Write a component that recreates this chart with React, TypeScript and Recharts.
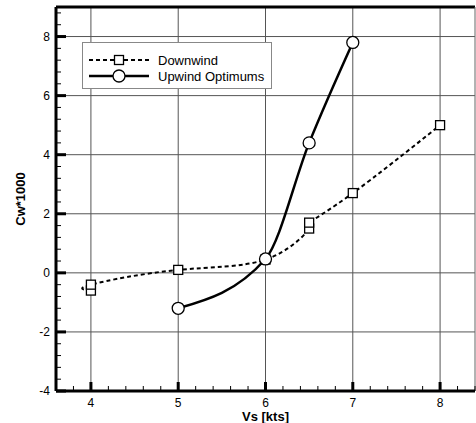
import { LineChart, Line, XAxis, YAxis, ReferenceLine } from "recharts";

const DOWN_X = [4, 4, 5, 6, 6.5, 6.5, 7, 8];
const DOWN_Y = [-0.6, -0.4, 0.1, 0.45, 1.5, 1.7, 2.7, 5.0];

const UP_X = [5, 6, 6.5, 7];
const UP_Y = [-1.2, 0.47, 4.4, 7.8];

const X_TICKS = [
  3.6, 3.8, 4, 4.2, 4.4, 4.6, 4.8, 5, 5.2, 5.4, 5.6, 5.8, 6, 6.2, 6.4, 6.6,
  6.8, 7, 7.2, 7.4, 7.6, 7.8, 8, 8.2, 8.4,
];
const Y_TICKS = [
  -4, -3.6, -3.2, -2.8, -2.4, -2, -1.6, -1.2, -0.8, -0.4, 0, 0.4, 0.8, 1.2,
  1.6, 2, 2.4, 2.8, 3.2, 3.6, 4, 4.4, 4.8, 5.2, 5.6, 6, 6.4, 6.8, 7.2, 7.6, 8,
  8.4, 8.8,
];
const X_GRID = [4, 5, 6, 7, 8];
const Y_GRID = [-2, 0, 2, 4, 6, 8];

const downData = DOWN_X.map((x, i) => ({ x, y: DOWN_Y[i] }));
const upData = UP_X.map((x, i) => ({ x, y: UP_Y[i] }));

const FONT = "'Liberation Sans', Arial, sans-serif";

const isInt = (v: number) => Math.abs(v - Math.round(v)) < 1e-6;

const XTick = (props: any) => {
  const { x, y, payload } = props;
  const v = payload.value as number;
  const major = isInt(v) && v > 3.7 && v < 8.3;
  return (
    <g>
      <line
        x1={x}
        x2={x}
        y1={y}
        y2={y - (major ? 9 : 5)}
        stroke="#000"
        strokeWidth={major ? 3 : 1}
      />
      {major && (
        <text x={x} y={y + 16} textAnchor="middle" fontSize={12} fill="#000" fontFamily={FONT}>
          {Math.round(v)}
        </text>
      )}
    </g>
  );
};

const YTick = (props: any) => {
  const { x, y, payload } = props;
  const v = payload.value as number;
  const major = isInt(v) && Math.round(v) % 2 === 0;
  return (
    <g>
      <line
        x1={x}
        x2={x + (major ? 10 : 5)}
        y1={y}
        y2={y}
        stroke="#000"
        strokeWidth={major ? 3 : 1}
      />
      {major && (
        <text x={x - 6} y={y + 4} textAnchor="end" fontSize={12} fill="#000" fontFamily={FONT}>
          {Math.round(v)}
        </text>
      )}
    </g>
  );
};

const SquareDot = (props: any) => {
  const { cx, cy } = props;
  if (cx == null || cy == null) return null;
  return (
    <rect x={cx - 4.5} y={cy - 4.5} width={9} height={9} fill="#fff" stroke="#000" strokeWidth={1.3} />
  );
};

const CircleDot = (props: any) => {
  const { cx, cy } = props;
  if (cx == null || cy == null) return null;
  return <circle cx={cx} cy={cy} r={6} fill="#fff" stroke="#000" strokeWidth={1.3} />;
};

const YLabel = (props: any) => {
  const vb = props.viewBox || { y: 7, height: 384 };
  const cx = 20;
  const cy = vb.y + vb.height / 2;
  return (
    <text
      x={cx}
      y={cy}
      transform={`rotate(-90 ${cx} ${cy})`}
      textAnchor="middle"
      dominantBaseline="central"
      fontSize={13}
      fontWeight="bold"
      fontFamily={FONT}
      fill="#000"
    >
      Cw*1000
    </text>
  );
};

function ChartLegend() {
  return (
    <div
      style={{
        position: "absolute",
        left: 82,
        top: 42,
        width: 188,
        height: 45,
        border: "1px solid #888",
        background: "#fff",
        fontFamily: FONT,
        fontSize: 13,
      }}
    >
      <svg width={188} height={45} style={{ position: "absolute", left: 0, top: 0 }}>
        <line x1={6} x2={66} y1={17} y2={17} stroke="#000" strokeWidth={2} strokeDasharray="4 3" />
        <rect x={31.5} y={12.5} width={9} height={9} fill="#fff" stroke="#000" strokeWidth={1.3} />
        <line x1={6} x2={66} y1={33} y2={33} stroke="#000" strokeWidth={2.5} />
        <circle cx={36} cy={33} r={6} fill="#fff" stroke="#000" strokeWidth={1.3} />
        <text x={75} y={22} fontSize={13} fontFamily={FONT} fill="#000">
          Downwind
        </text>
        <text x={75} y={38} fontSize={13} fontFamily={FONT} fill="#000">
          Upwind Optimums
        </text>
      </svg>
    </div>
  );
}

export default function App() {
  return (
    <div style={{ position: "absolute", left: 0, top: 0, width: 476, height: 423, background: "#fff" }}>
      <LineChart width={476} height={423} margin={{ top: 7, right: 1, left: 0, bottom: 0 }}>
        <XAxis
          type="number"
          dataKey="x"
          domain={[3.6, 8.4]}
          ticks={X_TICKS}
          interval={0}
          allowDuplicatedCategory={false}
          height={32}
          tickSize={0}
          tickMargin={0}
          tickLine={false}
          axisLine={{ stroke: "#000", strokeWidth: 3 }}
          tick={<XTick />}
          label={{
            value: "Vs [kts]",
            position: "insideBottom",
            offset: 2,
            style: { fontSize: 13, fontWeight: "bold", fontFamily: FONT, fill: "#000" },
          }}
        />
        <YAxis
          type="number"
          dataKey="y"
          domain={[-4, 9]}
          ticks={Y_TICKS}
          interval={0}
          width={56}
          tickSize={0}
          tickMargin={0}
          tickLine={false}
          axisLine={{ stroke: "#000", strokeWidth: 3 }}
          tick={<YTick />}
          label={<YLabel />}
        />
        {X_GRID.map((v) => (
          <ReferenceLine key={`gx${v}`} x={v} stroke="#555" strokeWidth={1} />
        ))}
        {Y_GRID.map((v) => (
          <ReferenceLine key={`gy${v}`} y={v} stroke="#555" strokeWidth={1} />
        ))}
        <ReferenceLine y={9} stroke="#000" strokeWidth={3} />
        <ReferenceLine x={8.4} stroke="#666" strokeWidth={1} />
        <Line
          data={downData}
          dataKey="y"
          type="natural"
          stroke="#000"
          strokeWidth={2}
          strokeDasharray="4 3"
          dot={<SquareDot />}
          activeDot={false}
          isAnimationActive={false}
        />
        <Line
          data={upData}
          dataKey="y"
          type="monotone"
          stroke="#000"
          strokeWidth={2.5}
          dot={<CircleDot />}
          activeDot={false}
          isAnimationActive={false}
        />
      </LineChart>
      <ChartLegend />
    </div>
  );
}
